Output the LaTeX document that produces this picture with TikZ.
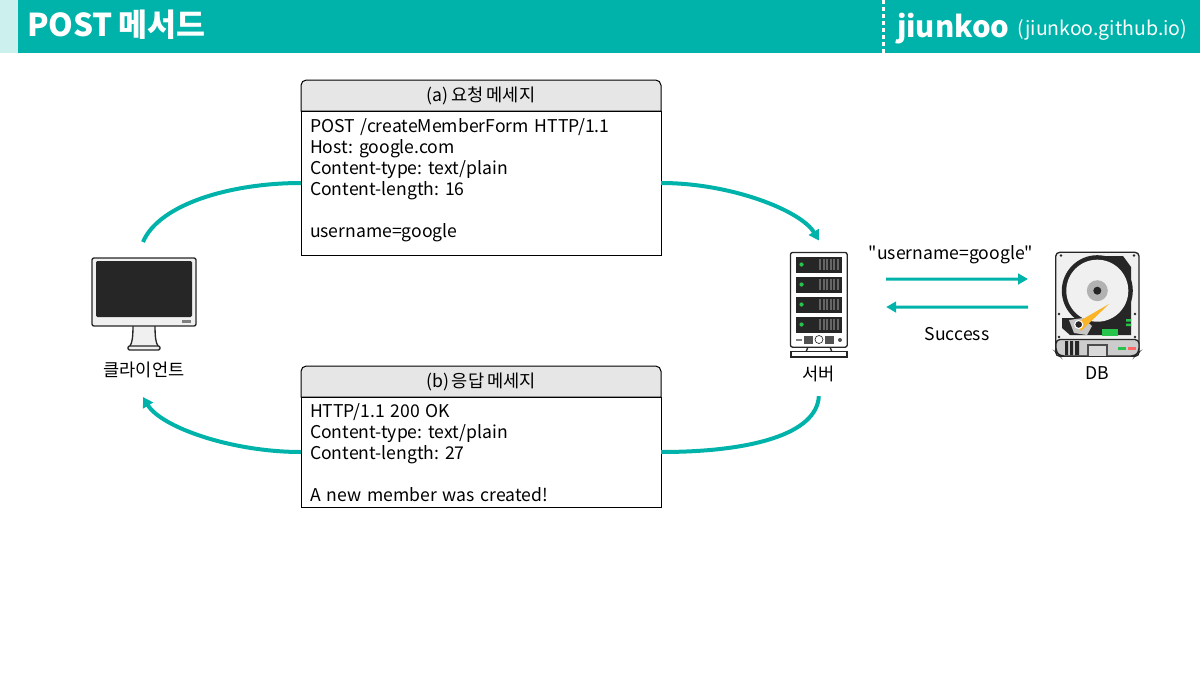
\documentclass[tikz,border=0pt]{standalone}
\usepackage{fontspec}
\setmainfont{Noto Sans CJK KR}[WordSpace=0.75]
\newfontfamily\plainfont{Noto Sans CJK KR}
\usetikzlibrary{arrows.meta,positioning,calc,backgrounds}
\definecolor{headteal}{RGB}{0,179,170}
\definecolor{headpale}{RGB}{204,240,238}
\definecolor{titlegray}{RGB}{230,230,230}
\definecolor{linedark}{RGB}{38,38,38}
\definecolor{panelgray}{RGB}{240,240,240}
\definecolor{ledgreen}{RGB}{40,195,75}
\definecolor{armyellow}{RGB}{250,180,40}

\begin{document}
\frenchspacing
\begin{tikzpicture}[
    x=0.75pt, y=-0.75pt,
    font=\fontsize{13.2pt}{15.75pt}\selectfont,
    msgtitle/.style={
        rectangle,
        minimum width=270pt,
        minimum height=23.25pt,
        inner sep=0pt,
        outer sep=0pt
    },
    msgbody/.style={
        rectangle,
        draw=black,
        fill=white,
        line width=0.75pt,
        minimum width=270pt,
        text width=256.5pt,
        align=left,
        inner xsep=6.75pt,
        inner ysep=0pt,
        outer sep=0pt
    },
    caption/.style={inner sep=0pt, outer sep=0pt},
    device/.style={
        rectangle,
        draw=linedark,
        fill=panelgray,
        line width=1pt,
        rounded corners=1.5pt,
        inner sep=0pt,
        outer sep=0pt
    },
    darkpart/.style={fill=linedark, draw=none},
    flow/.style={-{Triangle[length=7.5pt,width=8.5pt]}, line width=3pt, draw=headteal},
    flowplain/.style={line width=3pt, draw=headteal},
    link/.style={-{Triangle[length=7.5pt,width=8pt]}, line width=2.25pt, draw=headteal}
]
\useasboundingbox (0,0) rectangle (1200,675);

% Header
\node[rectangle, fill=headpale, minimum width=13.5pt, minimum height=39.75pt, inner sep=0pt, outer sep=0pt, anchor=north west] (strip) at (0,0) {};
\node[rectangle, fill=headteal, minimum width=886.5pt, minimum height=39.75pt, inner sep=0pt, outer sep=0pt, right=0pt of strip] (head) {};
\node[caption, text=white, anchor=base west, font=\fontsize{23.6pt}{23.6pt}\selectfont\bfseries] (title) at (27,36) {POST 메서드};
\node[caption, text=white, anchor=base west, font=\fontsize{22pt}{22pt}\selectfont\bfseries] (brand) at (897,37) {jiunkoo};
\node[caption, text=white, anchor=base west, font=\fontsize{14.6pt}{14.6pt}\selectfont] (site) at (1017,35) {(jiunkoo.github.io)};
\coordinate (sepstart) at (883,0);
\draw[white, line width=2.25pt, dash pattern=on 3pt off 2.25pt] (sepstart) -- (head.south -| sepstart);

% Request message
\node[msgtitle, anchor=north west] (reqtitle) at (301,80) {(a) 요청 메세지};
\node[msgbody, below=0pt of reqtitle, minimum height=108pt] (reqbody)
    {POST /createMemberForm HTTP/1.1\\
     Host: google.com\\
     Content-type: text/plain\\
     Content-length: 16\\[15.75pt]
     username=google\rule[-7pt]{0pt}{7pt}};

% Response message
\node[msgtitle, anchor=north west] (restitle) at (301,366) {(b) 응답 메세지};
\node[msgbody, below=0pt of restitle, minimum height=82.5pt] (resbody)
    {\rule{0pt}{11.6pt}HTTP/1.1 200 OK\\
     Content-type: text/plain\\
     Content-length: 27\\[15.75pt]
     A new member was created!};

\begin{scope}[on background layer]
\draw[fill=titlegray, line width=0.75pt] (reqtitle.south west) [rounded corners=4pt] -- (reqtitle.north west) -- (reqtitle.north east) [sharp corners] -- (reqtitle.south east) -- cycle;
\draw[fill=titlegray, line width=0.75pt] (restitle.south west) [rounded corners=4pt] -- (restitle.north west) -- (restitle.north east) [sharp corners] -- (restitle.south east) -- cycle;
\end{scope}

% Client
\fill[panelgray] (133,325) -- (155,325) .. controls (155,338) and (156,343) .. (158,346) -- (130,346) .. controls (132,343) and (133,338) .. (133,325) -- cycle;
\draw[linedark, line width=1pt] (133,325) .. controls (133,338) and (132,343) .. (130,346);
\draw[linedark, line width=1pt] (155,325) .. controls (155,338) and (156,343) .. (158,346);
\node[device, minimum width=78pt, minimum height=51pt, anchor=north west] (client) at (92,258) {};
\fill[darkpart, rounded corners=1pt] (96,261) rectangle (192,317);
\fill[gray] (181.5,320) rectangle (191,323);
\draw[linedark, fill=panelgray, line width=1pt, rounded corners=1pt] (128,346) rectangle (160,350);
\node[caption, below=27pt of client] (clientname) {클라이언트};

% Server
\draw[linedark, line width=1pt] (808,347) -- (806,352) (830,347) -- (832,352);
\node[device, minimum width=42.5pt, minimum height=71pt, anchor=north west, fill=white] (server) at (790.5,252.5) {};
\foreach \rowtop in {256.5,276.5,296.5,316.5} {
    \fill[darkpart] (796,\rowtop) rectangle (842,\rowtop+16);
    \fill[ledgreen] (801.5,\rowtop+8) circle (2.1);
    \foreach \barx in {819,822.5,...,837} {
        \fill[gray!80!black] (\barx,\rowtop+2.5) rectangle (\barx+2.2,\rowtop+13.5);
    }
}
\fill[gray] (796,339) rectangle (802,341);
\fill[linedark!80] (804,336) rectangle (813,344);
\draw[linedark, line width=0.5pt, fill=white] (819,339.5) circle (4);
\fill[linedark!80] (825,336) rectangle (834,344);
\fill[linedark!80] (840,340) circle (2);
\draw[linedark, line width=1.2pt, fill=white] (791,351.5) rectangle (847,357);
\node[caption, below=14pt of server] (servername) {서버};

% Database
\node[device, minimum width=62.5pt, minimum height=78pt, anchor=north west, rounded corners=3pt] (db) at (1055.7,252.3) {};
\fill[darkpart] (1097,256) -- (1123,256) -- (1131,267) -- (1131,335) -- (1070,335) -- (1062,328) -- (1062,318) -- (1078,318) -- (1070,300) -- cycle;
\fill[darkpart] (1097.3,290.7) circle (35.5);
\fill[panelgray] (1097.3,290.7) circle (31);
\fill[gray!60] (1097.3,290.7) circle (10.5);
\fill[darkpart] (1097.3,290.7) circle (4);
\fill[ledgreen] (1102,328.7) rectangle (1117.7,336);
\fill[ledgreen] (1126,319) rectangle (1131,321.5) (1126,323.5) rectangle (1131,326);
\fill[gray!45] (1069,320) -- (1083,318) -- (1092,326) -- (1087,335) -- (1074,333) -- cycle;
\fill[armyellow] (1076,323) -- (1109,304) -- (1081,331) -- cycle;
\draw[white, line width=0.8pt, fill=linedark] (1078.7,324.5) circle (4);
\foreach \screwx/\screwy in {1061/255.5,1134/255.5,1059/314,1135/314,1059/337,1135/337} {
    \fill[linedark] (\screwx,\screwy) circle (1.3);
}
\draw[linedark, line width=1pt, fill=gray!40, rounded corners=3pt] (1056,339.5) -- (1056,352) -- (1060,356) -- (1135,356) -- (1139,352) -- (1139,339.5) -- cycle;
\fill[linedark] (1065,341) rectangle (1068,355) (1070,341) rectangle (1073,355) (1075,341) rectangle (1079,355);
\draw[gray!60!black, line width=1.5pt, fill=gray!30] (1088,356) -- (1088,345) -- (1107,345) -- (1107,356);
\fill[ledgreen] (1118,346.5) rectangle (1125.5,349.5);
\fill[red!60] (1128,346.5) rectangle (1135.5,349.5);
\node[caption, below=8pt of db] (dbname) {DB};

% Client and server path
\coordinate (clienttop) at ($(client.north)+(-1,-16)$);
\coordinate (clientbottom) at ($(client.south)+(-1,71)$);
\coordinate (servertop) at ($(server.north)+(0,-12)$);
\coordinate (serverbottom) at ($(server.south)+(0,49)$);
\draw[flowplain] (clienttop) .. controls +(16,-38) and +(-70,0) .. (reqbody.west);
\draw[flow] (reqbody.east) .. controls +(70,0) and +(-18,-30) .. (servertop);
\draw[flowplain] (serverbottom) .. controls +(-2,38) and +(90,0) .. (resbody.east);
\draw[flow] (resbody.west) .. controls +(-70,0) and +(18,30) .. (clientbottom);

% Server and database path
\draw[link] ([shift={(39,-20.8)}]server.east) -- ([shift={(-27.7,-25.3)}]db.west);
\draw[link] ([shift={(-27.7,2.7)}]db.west) -- ([shift={(39,7.2)}]server.east);
\node[caption, anchor=base, font=\fontsize{13.2pt}{15.75pt}\plainfont] (sendlabel) at (951,259) {"username=google"};
\node[caption, anchor=base] (oklabel) at (957,340) {Success};

\end{tikzpicture}
\end{document}
